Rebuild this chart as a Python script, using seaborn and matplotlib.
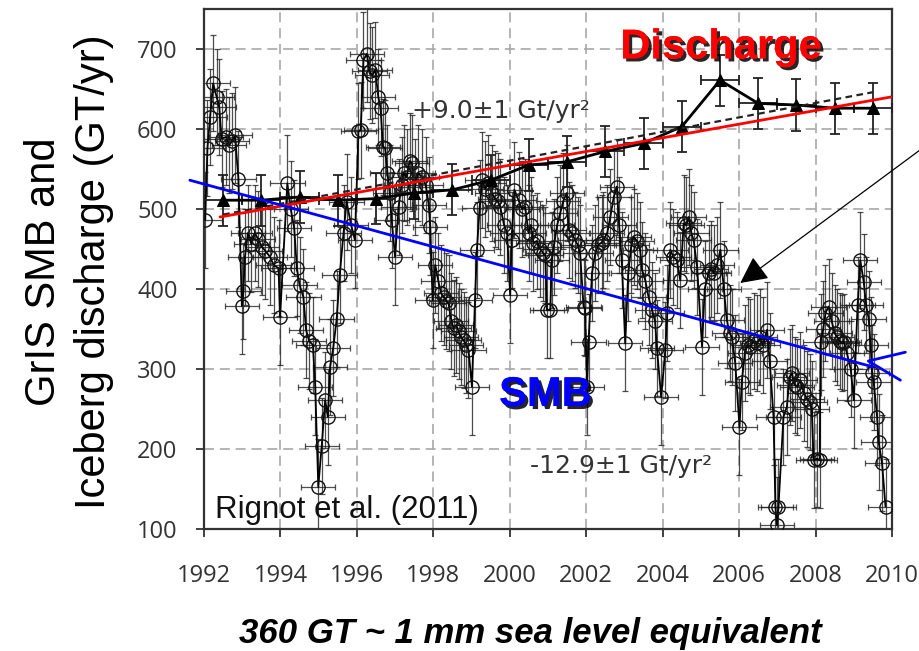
import matplotlib
matplotlib.use("Agg")
import matplotlib.pyplot as plt
import matplotlib.patheffects as pe
import numpy as np
import pandas as pd
import seaborn as sns

# ---------------- data ----------------
discharge_year = [1992.5, 1993.5, 1994.5, 1995.5, 1996.5, 1997.5, 1998.5, 1999.5, 2000.5,
                  2001.5, 2002.5, 2003.5, 2004.5, 2005.5, 2006.5, 2007.5, 2008.5, 2009.5]
discharge_val = [511, 511, 515, 511, 513, 520, 524, 536, 555,
                 559, 572, 582, 603, 661, 632, 630, 626, 626]
discharge_err = 32
discharge_xerr = 0.5

smb_year = [
    1992.03, 1992.09, 1992.16, 1992.24, 1992.33, 1992.40, 1992.46, 1992.58, 1992.66, 1992.74,
    1992.81, 1992.90, 1992.99, 1993.03, 1993.07, 1993.15, 1993.24, 1993.33, 1993.42, 1993.51,
    1993.60, 1993.73, 1993.82, 1993.95, 1993.99, 1994.18, 1994.27, 1994.36, 1994.43, 1994.50,
    1994.60, 1994.67, 1994.75, 1994.85, 1994.91, 1994.99, 1995.08, 1995.17, 1995.24, 1995.30,
    1995.38, 1995.47, 1995.55, 1995.65, 1995.73, 1995.85, 1995.95, 1996.04, 1996.10, 1996.17,
    1996.26, 1996.33, 1996.40, 1996.48, 1996.56, 1996.62, 1996.68, 1996.74, 1996.80, 1996.86,
    1996.91, 1997.00, 1997.09, 1997.17, 1997.22, 1997.30, 1997.38, 1997.44, 1997.52, 1997.60,
    1997.70, 1997.80, 1997.88, 1997.92, 1997.98, 1998.05, 1998.13, 1998.20, 1998.27, 1998.34,
    1998.40, 1998.47, 1998.53, 1998.60, 1998.66, 1998.72, 1998.79, 1998.86, 1998.92, 1999.01,
    1999.09, 1999.14, 1999.21, 1999.28, 1999.36, 1999.44, 1999.53, 1999.62, 1999.68, 1999.75,
    1999.85, 1999.93, 2000.01, 2000.05, 2000.12, 2000.23, 2000.32, 2000.40, 2000.49, 2000.55,
    2000.62, 2000.70, 2000.80, 2000.87, 2000.93, 2000.97, 2001.06, 2001.10, 2001.15, 2001.24,
    2001.32, 2001.40, 2001.49, 2001.54, 2001.62, 2001.71, 2001.78, 2001.84, 2001.93, 2001.97,
    2002.02, 2002.06, 2002.15, 2002.24, 2002.32, 2002.40, 2002.45, 2002.55, 2002.63, 2002.72,
    2002.80, 2002.86, 2002.93, 2003.02, 2003.10, 2003.18, 2003.24, 2003.33, 2003.41, 2003.46,
    2003.55, 2003.63, 2003.72, 2003.80, 2003.85, 2003.96, 2004.07, 2004.12, 2004.20, 2004.28,
    2004.37, 2004.46, 2004.55, 2004.62, 2004.68, 2004.75, 2004.81, 2004.90, 2005.03, 2005.10,
    2005.20, 2005.27, 2005.33, 2005.42, 2005.51, 2005.60, 2005.68, 2005.75, 2005.81, 2005.90,
    2006.01, 2006.07, 2006.15, 2006.22, 2006.29, 2006.38, 2006.47, 2006.55, 2006.62, 2006.73,
    2006.80, 2006.90, 2006.95, 2006.99, 2007.03, 2007.16, 2007.25, 2007.32, 2007.38, 2007.45,
    2007.52, 2007.60, 2007.70, 2007.78, 2007.85, 2007.90, 2007.95, 2008.04, 2008.11, 2008.13,
    2008.20, 2008.26, 2008.34, 2008.42, 2008.50, 2008.56, 2008.63, 2008.69, 2008.74, 2008.82,
    2008.92, 2009.00, 2009.10, 2009.17, 2009.26, 2009.32, 2009.39, 2009.44, 2009.48, 2009.52,
    2009.61, 2009.65, 2009.74, 2009.83]
smb_val = [
    486, 576, 615, 657, 640, 627, 588, 590, 580, 585,
    592, 538, 379, 397, 440, 470, 456, 470, 462, 453,
    448, 440, 430, 426, 365, 532, 500, 476, 426, 405,
    390, 349, 335, 330, 278, 153, 204, 261, 240, 303,
    326, 362, 417, 470, 509, 480, 461, 597, 599, 686,
    694, 672, 667, 674, 640, 626, 578, 576, 545, 520,
    486, 440, 503, 530, 545, 540, 560, 557, 528, 545,
    540, 530, 505, 478, 386, 430, 410, 395, 390, 385,
    382, 360, 351, 355, 347, 340, 336, 330, 324, 278,
    386, 449, 501, 536, 525, 532, 520, 512, 510, 503,
    480, 470, 392, 461, 524, 511, 500, 503, 470, 480,
    457, 460, 450, 445, 442, 374, 374, 436, 453, 480,
    495, 510, 520, 474, 470, 461, 455, 445, 378, 376,
    278, 334, 420, 445, 455, 458, 461, 470, 490, 515,
    528, 480, 436, 332, 420, 455, 465, 460, 449, 424,
    410, 390, 374, 360, 326, 265, 324, 370, 449, 440,
    436, 411, 482, 480, 490, 470, 461, 428, 328, 400,
    420, 425, 420, 430, 449, 400, 361, 345, 340, 307,
    227, 284, 320, 330, 328, 335, 332, 340, 330, 349,
    310, 240, 128, 105, 128, 240, 253, 290, 295, 280,
    278, 286, 270, 262, 259, 250, 186, 188, 186, 334,
    350, 370, 378, 360, 345, 340, 335, 332, 334, 320,
    300, 261, 380, 436, 409, 380, 363, 330, 295, 284,
    240, 209, 182, 128]
smb_err = 60
smb_xerr = 0.45

# trend lines (end points)
red_trend_year = [1992.42, 2009.97]
red_trend_val = [490, 640]
dash_trend_year = [1992.5, 2009.5]
dash_trend_val = [493, 646]
blue_trend_year = [1991.63, 2009.51]
blue_trend_val = [536, 302.5]

x_ticks = [1992, 1994, 1996, 1998, 2000, 2002, 2004, 2006, 2008, 2010]
y_ticks = [100, 200, 300, 400, 500, 600, 700]

# ---------------- style ----------------
sns.set_theme(style="white")
plt.rcParams["font.family"] = ["DejaVu Sans"]

fig = plt.figure(figsize=(9.2, 6.51), dpi=100)
ax = fig.add_axes([204 / 920, (651 - 529) / 651, (892 - 204) / 920, (529 - 9) / 651])
ax.set_facecolor("white")

smb_df = pd.DataFrame({"year": smb_year, "value": smb_val})
dis_df = pd.DataFrame({"year": discharge_year, "value": discharge_val})

# SMB error bars
ax.errorbar(smb_df["year"], smb_df["value"], yerr=smb_err, xerr=smb_xerr, fmt="none",
            ecolor="#222222", elinewidth=0.9, capsize=2.5, capthick=0.9, alpha=0.8, zorder=2)
sns.lineplot(data=smb_df, x="year", y="value", ax=ax, sort=False, estimator=None,
             color="black", lw=1.3, marker="o", markersize=9.5, markerfacecolor="none",
             markeredgecolor="#111111", markeredgewidth=1.0, zorder=3)

# Discharge
ax.errorbar(dis_df["year"], dis_df["value"], yerr=discharge_err, xerr=discharge_xerr, fmt="none",
            ecolor="#222222", elinewidth=1.3, capsize=3.5, capthick=1.3, zorder=4)
sns.lineplot(data=dis_df, x="year", y="value", ax=ax, sort=False, estimator=None,
             color="black", lw=2.0, marker="^", markersize=9, markerfacecolor="black",
             markeredgecolor="black", zorder=5)

# trend lines
sns.lineplot(x=dash_trend_year, y=dash_trend_val, ax=ax, color="#222222", lw=1.6,
             linestyle=(0, (3, 2)), zorder=6)
sns.lineplot(x=red_trend_year, y=red_trend_val, ax=ax, color="#ff0000", lw=2.0, zorder=7)
ax.plot(blue_trend_year, blue_trend_val, color="#0000ff", lw=2.0, zorder=7, clip_on=False)

# blue arrow head at right (outside the axes)
ax.plot([2010.35, 2009.38, 2010.22], [321, 310, 286], color="#0000ff", lw=2.0,
        clip_on=False, zorder=8)

# axes
ax.set_xlim(1992, 2010)
ax.set_ylim(100, 750)
ax.set_xticks(x_ticks)
ax.set_yticks(y_ticks)
ax.set_xticklabels([str(t) for t in x_ticks])
ax.set_yticklabels([str(t) for t in y_ticks])
ax.tick_params(axis="both", which="major", direction="out", length=6, width=1.3,
               color="#333333", labelsize=17, labelcolor="#333333",
               bottom=True, left=True)
for lab in ax.get_xticklabels() + ax.get_yticklabels():
    lab.set_family(["Open Sans", "DejaVu Sans"])
ax.tick_params(axis="x", pad=19)
ax.tick_params(axis="y", pad=13)
ax.grid(True, color="#a8a8a8", lw=1.2, linestyle=(0, (6, 3.5)), zorder=0)
ax.set_axisbelow(True)
for s in ax.spines.values():
    s.set_visible(True)
    s.set_color("#333333")
    s.set_linewidth(1.6)
ax.set_xlabel("")
ax.set_ylabel("")

# texts
shadow = [pe.withSimplePatchShadow(offset=(2.2, -2.2), shadow_rgbFace="black", alpha=0.85), pe.Normal()]
ax.text(2005.53, 702, "Discharge", color="#ff0000", fontsize=30, fontweight="bold",
        family="Liberation Sans", ha="center", va="center", path_effects=shadow, zorder=10)
ax.text(2000.93, 267.5, "SMB", color="#0000ff", fontsize=30, fontweight="bold",
        family="Liberation Sans", ha="center", va="center", path_effects=shadow, zorder=10)
ax.text(1997.44, 622.5, "+9.0±1 Gt/yr²", color="#333333", fontsize=18,
        ha="left", va="center", zorder=10)
ax.text(2000.53, 179, "-12.9±1 Gt/yr²", color="#333333", fontsize=18,
        ha="left", va="center", zorder=10)
ax.text(1992.29, 113.5, "Rignot et al. (2011)", color="#111111", fontsize=22.5,
        family="Liberation Sans", ha="left", va="baseline", zorder=10)

# black arrow from outside right
ax.annotate("", xy=(2006.03, 407.5), xycoords="data",
            xytext=(920, 651 - 150), textcoords="figure pixels",
            arrowprops=dict(arrowstyle="-|>", mutation_scale=42, lw=0.9, color="black",
                            shrinkA=0, shrinkB=0),
            annotation_clip=False, zorder=11)

# axis titles
fig.text(69 / 920, 1 - 272 / 651, "GrIS SMB and\nIceberg discharge (GT/yr)", rotation=90,
         ha="center", va="center", fontsize=30, family="Liberation Sans",
         linespacing=1.3, color="black")
fig.text(530 / 920, 17 / 651, "360 GT ~ 1 mm sea level equivalent", ha="center", va="center",
         fontsize=25, family="Liberation Sans", fontweight="bold", fontstyle="italic",
         color="black")

fig.savefig("out.png", dpi=100, facecolor="white")
